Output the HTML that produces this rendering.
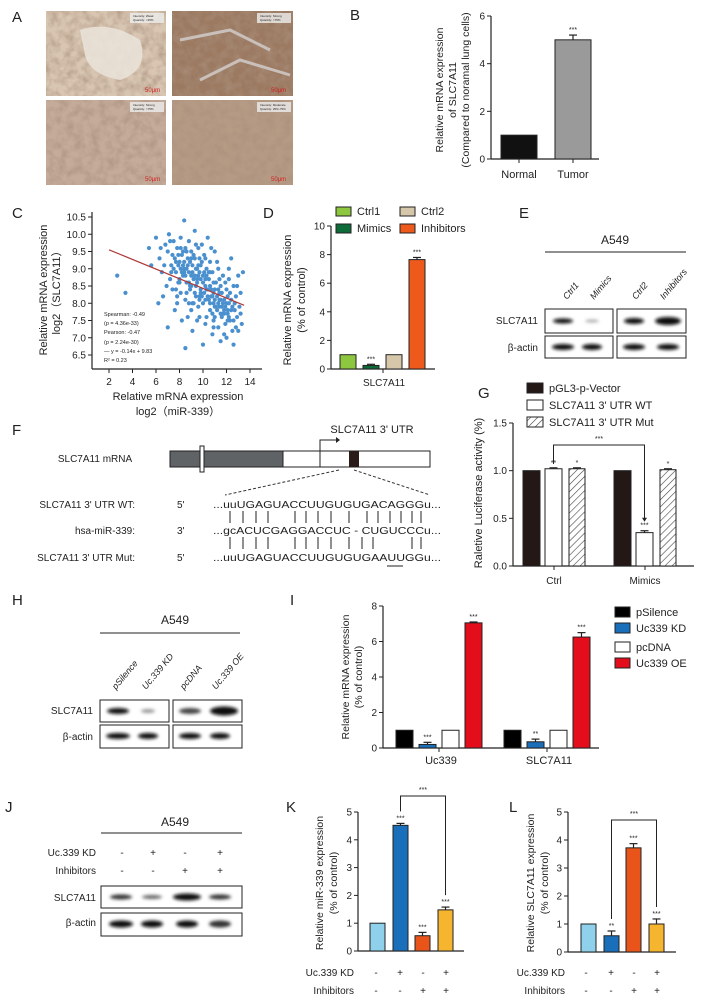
<!DOCTYPE html>
<html><head><meta charset="utf-8"><style>
html,body{margin:0;padding:0;background:#fff}
svg{display:block;font-family:"Liberation Sans",sans-serif}
text{fill:#222}
</style></head><body>
<svg id="fig" width="703" height="998" viewBox="0 0 703 998" xmlns="http://www.w3.org/2000/svg">
<defs>
<pattern id="hatch" patternUnits="userSpaceOnUse" width="5" height="5" patternTransform="rotate(45)"><rect width="5" height="5" fill="#fff"/><line x1="0" y1="0" x2="0" y2="5" stroke="#444" stroke-width="1.2"/></pattern>
<filter id="blur"><feGaussianBlur stdDeviation="1.6"/></filter>
<filter id="tex" x="0" y="0" width="1" height="1"><feTurbulence type="fractalNoise" baseFrequency="0.12" numOctaves="3" seed="3"/><feColorMatrix values="0 0 0 0 0.40 0 0 0 0 0.28 0 0 0 0 0.20 0 0 0 1.3 -0.45"/></filter>
</defs>

<g font-size="15">
<text x="12" y="22">A</text><text x="350" y="20">B</text><text x="12" y="218">C</text>
<text x="263" y="218">D</text><text x="519" y="218">E</text><text x="12" y="435">F</text>
<text x="478" y="398">G</text><text x="12" y="605">H</text><text x="290" y="605">I</text>
<text x="5" y="812">J</text><text x="286" y="812">K</text><text x="509" y="812">L</text>
</g>

<g>
<rect x="46" y="11" width="120" height="85" fill="#d8c6b2"/>
<rect x="46" y="11" width="120" height="85" fill="#fff" filter="url(#tex)"/>
<path d="M80 30 Q110 20 140 40 Q150 70 120 80 Q90 75 85 55 Z" fill="#e9e2d8" opacity="0.9"/>
<rect x="172" y="11" width="121" height="85" fill="#9c7a62"/>
<rect x="172" y="11" width="121" height="85" fill="#fff" filter="url(#tex)"/>
<path d="M180 40 L230 30 L270 50 M200 80 L240 60 L290 75" stroke="#c9c0bb" stroke-width="3" fill="none"/>
<rect x="46" y="100" width="120" height="85" fill="#c5ab9a"/>
<rect x="46" y="100" width="120" height="85" fill="#fff" filter="url(#tex)"/>
<rect x="172" y="100" width="121" height="85" fill="#b59a84"/>
<rect x="172" y="100" width="121" height="85" fill="#fff" filter="url(#tex)"/>
<g font-size="3" fill="#555">
<rect x="130" y="13" width="34" height="10" fill="#eee" opacity="0.8"/><text x="133" y="17">Intensity: Weak</text><text x="133" y="21">Quantity: &lt;25%</text>
<rect x="257" y="13" width="34" height="10" fill="#eee" opacity="0.8"/><text x="260" y="17">Intensity: Strong</text><text x="260" y="21">Quantity: &gt;75%</text>
<rect x="130" y="102" width="34" height="10" fill="#eee" opacity="0.8"/><text x="133" y="106">Intensity: Strong</text><text x="133" y="110">Quantity: &gt;75%</text>
<rect x="257" y="102" width="34" height="10" fill="#eee" opacity="0.8"/><text x="260" y="106">Intensity: Moderate</text><text x="260" y="110">Quantity: 25%-75%</text>
</g>
<g font-size="6">
<text x="145" y="92" style="fill:#d02020">50μm</text><text x="271" y="92" style="fill:#d02020">50μm</text>
<text x="145" y="181" style="fill:#d02020">50μm</text><text x="271" y="181" style="fill:#d02020">50μm</text>
</g>
</g>

<g id="panelB"></g>
<g id="panelC"></g>
<g id="panelD"></g>

<g font-size="10">
<text x="615" y="244" text-anchor="middle" font-size="12">A549</text>
<line x1="545" y1="252" x2="686" y2="252" stroke="#222"/>
<text transform="translate(567,300) rotate(-50)" font-style="italic" font-size="9">Ctrl1</text>
<text transform="translate(594,300) rotate(-50)" font-style="italic" font-size="9">Mimics</text>
<text transform="translate(636,300) rotate(-50)" font-style="italic" font-size="9">Ctrl2</text>
<text transform="translate(664,300) rotate(-50)" font-style="italic" font-size="9">Inhibitors</text>
<text x="538" y="324" text-anchor="end">SLC7A11</text>
<text x="538" y="351" text-anchor="end">β-actin</text>
<rect x="545" y="309" width="68" height="24" fill="#fff" stroke="#222"/>
<rect x="617" y="309" width="69" height="24" fill="#fff" stroke="#222"/>
<rect x="545" y="336" width="68" height="22" fill="#fff" stroke="#222"/>
<rect x="617" y="336" width="69" height="22" fill="#fff" stroke="#222"/>
<g filter="url(#blur)" fill="#111">
<ellipse cx="563" cy="321" rx="10" ry="2.5"/><ellipse cx="592" cy="321" rx="7" ry="1.5" fill="#aaa"/>
<ellipse cx="634" cy="321" rx="10" ry="3"/><ellipse cx="668" cy="321" rx="13" ry="4"/>
<ellipse cx="563" cy="347" rx="11" ry="3"/><ellipse cx="592" cy="347" rx="10" ry="3"/>
<ellipse cx="634" cy="347" rx="11" ry="3"/><ellipse cx="668" cy="347" rx="11" ry="3"/>
</g>
</g>

<g font-size="10">
<text x="372" y="433" text-anchor="middle" font-size="11">SLC7A11 3' UTR</text>
<text x="95" y="462" text-anchor="middle">SLC7A11 mRNA</text>
<rect x="170" y="451" width="260" height="16" fill="#fff" stroke="#222"/>
<rect x="170" y="451" width="113" height="16" fill="#5f6366" stroke="#222"/>
<rect x="200" y="446" width="4" height="26" fill="#fff" stroke="#222"/>
<line x1="320" y1="451" x2="320" y2="467" stroke="#222"/>
<polyline points="320,451 320,440 336,440" fill="none" stroke="#222"/>
<polygon points="336,437 340,440 336,443" fill="#222"/>
<rect x="349" y="451" width="10" height="16" fill="#2a1a1a"/>
<line x1="339" y1="470" x2="225" y2="495" stroke="#333" stroke-dasharray="3,2"/>
<line x1="354" y1="470" x2="430" y2="495" stroke="#333" stroke-dasharray="3,2"/>
<text x="135" y="508" text-anchor="end">SLC7A11 3' UTR WT:</text>
<text x="135" y="534" text-anchor="end">hsa-miR-339:</text>
<text x="135" y="561" text-anchor="end">SLC7A11 3' UTR Mut:</text>
<text x="177" y="508">5'</text><text x="177" y="534">3'</text><text x="177" y="561">5'</text>
<text x="213" y="508" textLength="228" lengthAdjust="spacingAndGlyphs">...uuUGAGUACCUUGUGUGACAGGGu...</text>
<text x="213" y="534" textLength="228" lengthAdjust="spacingAndGlyphs">...gcACUCGAGGACCUC - CUGUCCCu...</text>
<text x="213" y="561" textLength="228" lengthAdjust="spacingAndGlyphs">...uuUGAGUACCUUGUGUGAAUUGGu...</text>
<g id="pairs" stroke="#222" stroke-width="1"></g>
<line x1="387" y1="566" x2="403" y2="566" stroke="#222"/>
</g>

<g id="panelG"></g>

<g font-size="10">
<text x="175" y="624" text-anchor="middle" font-size="12">A549</text>
<line x1="100" y1="633" x2="240" y2="633" stroke="#222"/>
<text transform="translate(116,690) rotate(-50)" font-style="italic" font-size="9">pSilence</text>
<text transform="translate(146,690) rotate(-50)" font-style="italic" font-size="9">Uc.339 KD</text>
<text transform="translate(184,690) rotate(-50)" font-style="italic" font-size="9">pcDNA</text>
<text transform="translate(216,690) rotate(-50)" font-style="italic" font-size="9">Uc.339 OE</text>
<text x="93" y="714" text-anchor="end">SLC7A11</text>
<text x="93" y="740" text-anchor="end">β-actin</text>
<rect x="100" y="700" width="69" height="22" fill="#fff" stroke="#222"/>
<rect x="173" y="700" width="69" height="22" fill="#fff" stroke="#222"/>
<rect x="100" y="725" width="69" height="23" fill="#fff" stroke="#222"/>
<rect x="173" y="725" width="69" height="23" fill="#fff" stroke="#222"/>
<g filter="url(#blur)" fill="#111">
<ellipse cx="118" cy="711" rx="11" ry="3"/><ellipse cx="148" cy="711" rx="7" ry="2" fill="#999"/>
<ellipse cx="190" cy="711" rx="11" ry="3" fill="#444"/><ellipse cx="224" cy="711" rx="14" ry="4.5"/>
<ellipse cx="118" cy="736" rx="12" ry="3"/><ellipse cx="148" cy="736" rx="10" ry="3"/>
<ellipse cx="190" cy="736" rx="11" ry="3"/><ellipse cx="220" cy="736" rx="10" ry="3"/>
</g>
</g>

<g id="panelI"></g>

<g font-size="10">
<text x="175" y="826" text-anchor="middle" font-size="12">A549</text>
<line x1="101" y1="833" x2="242" y2="833" stroke="#222"/>
<text x="96" y="856" text-anchor="end">Uc.339 KD</text>
<text x="96" y="874" text-anchor="end">Inhibitors</text>
<g text-anchor="middle"><text x="122" y="856">-</text><text x="153" y="856">+</text><text x="185" y="856">-</text><text x="220" y="856">+</text>
<text x="122" y="874">-</text><text x="153" y="874">-</text><text x="185" y="874">+</text><text x="220" y="874">+</text></g>
<text x="96" y="901" text-anchor="end">SLC7A11</text>
<text x="96" y="926" text-anchor="end">β-actin</text>
<rect x="101" y="886" width="141" height="22" fill="#fff" stroke="#222"/>
<rect x="101" y="913" width="141" height="23" fill="#fff" stroke="#222"/>
<g filter="url(#blur)" fill="#111">
<ellipse cx="121" cy="897" rx="11" ry="2.5" fill="#333"/><ellipse cx="152" cy="897" rx="10" ry="2" fill="#666"/>
<ellipse cx="187" cy="897" rx="14" ry="3.5"/><ellipse cx="220" cy="897" rx="11" ry="2.5" fill="#333"/>
<ellipse cx="121" cy="924" rx="12" ry="3.5"/><ellipse cx="152" cy="924" rx="11" ry="3.5"/>
<ellipse cx="187" cy="924" rx="11" ry="3.5"/><ellipse cx="220" cy="924" rx="11" ry="3.5" fill="#333"/>
</g>
</g>

<g id="panelK"></g>
<g id="panelL"></g>
</svg>

<script>
const bCats = ['Normal', 'Tumor'];
const bVals = [1, 5.0];
const bErr = [0, 0.2];
const bTicks = [0, 2, 4, 6];

const cX = [2.7,3.4,5.4,5.6,6.0,6.3,6.5,6.6,6.8,7.0,7.1,7.2,7.3,7.4,7.5,7.6,7.7,7.8,7.9,8.0,8.1,8.1,8.2,8.3,8.4,8.4,8.5,8.5,8.6,8.7,8.8,8.8,8.9,9.0,9.0,9.1,9.2,9.3,9.3,9.4,9.5,9.5,9.6,9.7,9.7,9.8,9.9,10.0,10.0,10.1,10.2,10.2,10.3,10.4,10.4,10.5,10.6,10.6,10.7,10.8,10.8,10.9,11.0,11.0,11.1,11.2,11.3,11.3,11.4,11.5,11.5,11.6,11.7,11.8,11.9,12.0,12.0,12.1,12.2,12.3,12.4,12.5,12.6,12.6,12.7,12.8,12.9,13.0,13.1,13.2,13.4,13.3,8.5,10.0,7.6,8.2,9.1,6.9,6.2,7.0,7.8,8.7,9.6,10.9,11.6,12.2,9.9,8.9,9.4,10.7,11.2,12.4,7.4,8.0,9.2,10.3,11.8,6.7,7.9,8.6,9.8,10.5,11.4,12.7,6.4,7.2,9.0,10.1,11.0,12.1,8.3,9.6,10.9,11.9,13.0,9.7,8.8,10.6,11.7,7.7,10.2,9.3,8.1,12.9,11.3,9.5,10.8,7.3,
 7.5,7.9,8.2,8.4,8.6,8.8,9.0,9.2,9.4,9.6,9.8,10.0,10.2,10.4,10.6,10.8,11.0,11.2,11.4,11.6,11.8,12.0,12.2,12.4,7.7,8.0,8.3,8.5,8.7,8.9,9.1,9.3,9.5,9.7,9.9,10.1,10.3,10.5,10.7,10.9,11.1,11.3,11.5,11.7,11.9,12.1,12.3,12.5,8.1,8.6,9.0,9.4,9.8,10.2,10.6,11.0,11.4,11.8,12.2,12.6,7.8,8.4,9.1,9.7,10.3,10.9,11.5,12.1,12.8,13.2];
const cY = [8.8,8.3,9.6,9.1,9.9,9.3,8.9,8.2,9.7,9.5,10.0,8.7,9.1,8.4,9.8,9.3,8.9,9.6,8.6,9.2,9.9,8.3,9.4,8.8,10.4,9.0,9.6,8.1,8.6,9.3,9.8,8.9,8.4,9.5,7.8,9.1,8.7,10.1,9.3,8.2,9.0,8.6,9.6,7.6,8.9,8.4,9.2,8.0,8.8,9.4,8.5,7.4,9.0,9.9,8.2,8.7,7.8,9.2,8.4,7.1,8.9,8.0,9.5,7.6,8.6,8.2,7.3,9.0,7.9,8.5,6.9,7.6,8.8,8.1,7.4,8.4,7.0,7.8,8.7,7.5,8.1,7.2,6.8,8.5,7.8,8.2,7.6,8.8,7.9,8.3,8.9,7.4,6.7,6.8,7.8,7.5,7.2,8.5,8.0,7.3,8.0,7.6,7.9,7.3,8.3,9.0,9.7,9.2,9.7,9.6,9.2,9.3,9.4,8.7,8.0,7.6,7.1,9.1,9.1,8.3,8.7,8.1,8.7,8.0,9.6,9.8,8.5,8.3,8.4,8.2,9.5,9.1,8.6,7.9,7.2,8.1,8.0,8.5,7.7,8.4,9.3,8.8,9.0,8.5,8.0,7.5,7.7,8.9,
 9.0,9.4,8.9,9.2,9.0,8.6,8.8,9.4,8.5,8.8,8.3,8.6,8.1,8.4,8.0,8.2,7.9,7.8,8.1,7.9,7.7,8.0,7.6,7.8,9.2,8.6,9.1,8.8,9.1,8.5,8.9,8.3,8.7,9.3,8.2,8.9,8.4,8.9,8.2,8.3,7.9,8.4,7.7,8.0,8.6,7.5,8.3,7.9,9.6,9.5,9.3,9.0,9.1,8.7,8.9,8.1,8.3,7.8,8.0,7.5,8.2,8.9,8.0,8.2,8.8,7.5,8.1,7.7,7.3,7.7];
const cFit = [-0.14, 9.83];
const cXTicks = [2,4,6,8,10,12,14];
const cYTicks = [6.5,7.0,7.5,8.0,8.5,9.0,9.5,10.0,10.5];

const dCats = ['Ctrl1','Mimics','Ctrl2','Inhibitors'];
const dVals = [1, 0.25, 1, 7.65];
const dErr = [0, 0.08, 0, 0.15];
const dStars = ['', '***', '', '***'];
const dTicks = [0,2,4,6,8,10];

const gGroups = ['Ctrl','Mimics'];
const gVector = [1, 1];
const gWT = [1.02, 0.35];
const gMut = [1.02, 1.01];
const gWTErr = [0.01, 0.02];
const gMutErr = [0.01, 0.01];
const gWTStars = ['**','***'];
const gMutStars = ['*','*'];
const gTicks = [0.0,0.5,1.0,1.5];

const iGroups = ['Uc339','SLC7A11'];
const iPSilence = [1, 1];
const iKD = [0.2, 0.35];
const iPc = [1, 1];
const iOE = [7.05, 6.25];
const iKDErr = [0.12, 0.15];
const iOEErr = [0.05, 0.25];
const iKDStars = ['***','**'];
const iTicks = [0,2,4,6,8];

const kVals = [1, 4.52, 0.55, 1.48];
const kErr = [0, 0.07, 0.12, 0.1];
const kStars = ['', '***', '***', '***'];
const lVals = [1, 0.58, 3.72, 1.0];
const lErr = [0, 0.17, 0.15, 0.18];
const lStars = ['', '**', '***', '***'];
const klTicks = [0,1,2,3,4,5];
const kdSigns = ['-','+','-','+'];
const inhSigns = ['-','-','+','+'];

const NS = 'http://www.w3.org/2000/svg';
function mk(tag, attrs, parent) {
  const e = document.createElementNS(NS, tag);
  for (const k in attrs) e.setAttribute(k, attrs[k]);
  parent.appendChild(e);
  return e;
}
function txt(parent, x, y, s, size, anchor, extra) {
  const t = mk('text', Object.assign({x: x, y: y, 'font-size': size, 'text-anchor': anchor || 'start'}, extra || {}), parent);
  t.textContent = s;
  return t;
}
function scale(v0, p0, v1, p1) { return v => p0 + (v - v0) * (p1 - p0) / (v1 - v0); }
function yAxis(g, x, ys, ticks, yTop, yBot, fmt, fs) {
  const ax = mk('line', {x1: x, y1: yTop, x2: x, y2: yBot, stroke: '#222', 'stroke-width': 1.2}, g);
  
  
  ticks.forEach(v => {
    mk('line', {x1: x - 4, y1: ys(v), x2: x, y2: ys(v), stroke: '#222'}, g);
    const t = txt(g, x - 6, ys(v) + 3.5, fmt ? fmt(v) : String(v), fs || 10, 'end');
    
    
  });
}
function bar(g, x, w, v, ys, fill, err, star, name) {
  const y0 = ys(0), y1 = ys(v);
  if (err) {
    mk('line', {x1: x + w / 2, y1: y1, x2: x + w / 2, y2: ys(v + err), stroke: '#222', 'stroke-width': 1.2}, g);
    mk('line', {x1: x + w / 2 - 4, y1: ys(v + err), x2: x + w / 2 + 4, y2: ys(v + err), stroke: '#222', 'stroke-width': 1.2}, g);
  }
  const r = mk('rect', {x: x, y: y1, width: w, height: y0 - y1, fill: fill, stroke: '#222', 'stroke-width': 1}, g);
  
  
  if (star) {
    const s = txt(g, x + w / 2, ys(v + (err || 0)) - 3, star, 7, 'middle');
    
    
  }
}
function rotLabel(g, x, y, s, size) {
  const t = txt(g, 0, 0, s, size, 'middle', {transform: 'translate(' + x + ',' + y + ') rotate(-90)'});
  
  
  return t;
}
function legendEntry(g, x, y, w, h, fill, label, size) {
  const r = mk('rect', {x: x, y: y, width: w, height: h, fill: fill, stroke: '#222'}, g);
  
  
  const t = txt(g, x + w + 6, y + h - 1, label, size, 'start');
  
  
}

(function () {
  const g = document.getElementById('panelB');
  const ys = scale(0, 159, 6, 16);
  yAxis(g, 491, ys, bTicks, 16, 159, null, 10);
  mk('line', {x1: 491, y1: 159, x2: 599, y2: 159, stroke: '#222', 'stroke-width': 1.2}, g);
  const xs = [501, 555], fills = ['#111', '#9a9a9a'];
  bCats.forEach((c, i) => {
    bar(g, xs[i], 36, bVals[i], ys, fills[i], bErr[i], i === 1 ? '***' : '', 'bar-' + c.toLowerCase());
    mk('line', {x1: xs[i] + 18, y1: 159, x2: xs[i] + 18, y2: 163, stroke: '#222'}, g);
    const t = txt(g, xs[i] + 18, 178, c, 11, 'middle');
    
    
  });
  rotLabel(g, 443, 90, 'Relative mRNA expression', 10.5);
  rotLabel(g, 456, 90, 'of SLC7A11', 10.5);
  rotLabel(g, 469, 90, '(Compared to noramal lung cells)', 10.5);
})();

(function () {
  const g = document.getElementById('panelC');
  const xs = scale(2, 109, 14, 250);
  const ys = scale(10.5, 217, 6.5, 355);
  yAxis(g, 92, ys, cYTicks, 212, 369, v => v.toFixed(1), 10);
  const xa = mk('line', {x1: 92, y1: 369, x2: 262, y2: 369, stroke: '#222', 'stroke-width': 1.2}, g);
  
  
  cXTicks.forEach(v => {
    mk('line', {x1: xs(v), y1: 369, x2: xs(v), y2: 373, stroke: '#222'}, g);
    const t = txt(g, xs(v), 385, String(v), 10, 'middle');
    
    
  });
  cX.forEach((x, i) => {
    const p = mk('circle', {cx: xs(x), cy: ys(cY[i]), r: 2.1, fill: '#4a90cf'}, g);
    
    
  });
  const fl = mk('line', {x1: xs(2), y1: ys(cFit[0] * 2 + cFit[1]), x2: xs(13.5), y2: ys(cFit[0] * 13.5 + cFit[1]), stroke: '#b03a3a', 'stroke-width': 1.2}, g);
  
  
  const st = ['Spearman: -0.49', '(p = 4.36e-33)', 'Pearson: -0.47', '(p = 2.24e-30)', '— y = -0.14x + 9.83', 'R² = 0.23'];
  const sy = [316, 325, 334, 344, 353, 362];
  st.forEach((s, i) => { const t = txt(g, 104, sy[i], s, 5.5, 'start');   });
  let t = txt(g, 178, 400, 'Relative mRNA expression', 11, 'middle');
  
  
  t = txt(g, 178, 415, 'log2（miR-339）', 11, 'middle', {'font-family': '"Liberation Sans","Noto Sans CJK SC",sans-serif'});
  
  
  rotLabel(g, 47, 290, 'Relative mRNA expression', 11);
  rotLabel(g, 60, 290, 'log2（SLC7A11）', 11).setAttribute('font-family', '"Liberation Sans","Noto Sans CJK SC",sans-serif');
})();

(function () {
  const g = document.getElementById('panelD');
  const ys = scale(0, 369, 10, 226);
  yAxis(g, 331, ys, dTicks, 226, 369, null, 10);
  mk('line', {x1: 331, y1: 369, x2: 435, y2: 369, stroke: '#222', 'stroke-width': 1.2}, g);
  const xs = [340, 363, 386, 409], fills = ['#8dc63f', '#0d6b3a', '#d6c7aa', '#ee5a1c'];
  dCats.forEach((c, i) => bar(g, xs[i], 16, dVals[i], ys, fills[i], dErr[i], dStars[i], 'bar-' + c.toLowerCase()));
  mk('line', {x1: 383, y1: 369, x2: 383, y2: 373, stroke: '#222'}, g);
  const t = txt(g, 384, 386, 'SLC7A11', 10, 'middle');
  
  
  legendEntry(g, 336, 207, 15, 9, fills[0], 'Ctrl1', 11);
  legendEntry(g, 400, 207, 15, 9, fills[2], 'Ctrl2', 11);
  legendEntry(g, 336, 224, 15, 9, fills[1], 'Mimics', 11);
  legendEntry(g, 400, 224, 15, 9, fills[3], 'Inhibitors', 11);
  rotLabel(g, 291, 300, 'Relative mRNA expression', 11);
  rotLabel(g, 305, 300, '(% of control)', 11);
})();

(function () {
  const g = document.getElementById('pairs');
  const px = [230,243,256,268,295,306,318,331,349,367,378,390,401,412,421];
  const px2 = [230,243,256,268,295,306,318,331,349,362,373,412,421];
  px.forEach(x => mk('line', {x1: x, y1: 511, x2: x, y2: 523}, g));
  px2.forEach(x => mk('line', {x1: x, y1: 537, x2: x, y2: 549}, g));
})();

(function () {
  const g = document.getElementById('panelG');
  const ys = scale(0, 566, 1.5, 423);
  yAxis(g, 513, ys, gTicks, 423, 566, v => v.toFixed(1), 10);
  mk('line', {x1: 513, y1: 566, x2: 694, y2: 566, stroke: '#222', 'stroke-width': 1.2}, g);
  const gx = [523, 614];
  gGroups.forEach((c, i) => {
    bar(g, gx[i], 17, gVector[i], ys, '#231815', 0, '', 'bar-vector-' + c.toLowerCase());
    bar(g, gx[i] + 22, 17, gWT[i], ys, '#fff', gWTErr[i], gWTStars[i], 'bar-wt-' + c.toLowerCase());
    bar(g, gx[i] + 46, 16, gMut[i], ys, 'url(#hatch)', gMutErr[i], gMutStars[i], 'bar-mut-' + c.toLowerCase());
    mk('line', {x1: gx[i] + 31, y1: 566, x2: gx[i] + 31, y2: 570, stroke: '#222'}, g);
    const t = txt(g, gx[i] + 31, 584, c, 10, 'middle');
    
    
  });
  const bx1 = gx[0] + 30.5, bx2 = gx[1] + 30.5;
  const br = mk('polyline', {points: bx1 + ',' + ys(gWT[0] + 0.05) + ' ' + bx1 + ',445 ' + bx2 + ',445 ' + bx2 + ',' + (ys(gWT[1] + gWTErr[1]) - 12), fill: 'none', stroke: '#222'}, g);
  
  
  mk('polygon', {points: (bx2 - 2.5) + ',' + (ys(gWT[1] + gWTErr[1]) - 13) + ' ' + (bx2 + 2.5) + ',' + (ys(gWT[1] + gWTErr[1]) - 13) + ' ' + bx2 + ',' + (ys(gWT[1] + gWTErr[1]) - 9), fill: '#222'}, g);
  txt(g, (bx1 + bx2) / 2, 441, '***', 7, 'middle');
  legendEntry(g, 527, 383, 16, 10, '#231815', 'pGL3-p-Vector', 11);
  legendEntry(g, 527, 400, 16, 10, '#fff', 'SLC7A11 3\' UTR WT', 11);
  legendEntry(g, 527, 417, 16, 10, 'url(#hatch)', 'SLC7A11 3\' UTR Mut', 11);
  rotLabel(g, 482, 493, 'Raletive Luciferase activity (%)', 11);
})();

(function () {
  const g = document.getElementById('panelI');
  const ys = scale(0, 748, 8, 606);
  yAxis(g, 383, ys, iTicks, 606, 748, null, 10);
  mk('line', {x1: 383, y1: 748, x2: 599, y2: 748, stroke: '#222', 'stroke-width': 1.2}, g);
  const gx = [396, 504];
  iGroups.forEach((c, i) => {
    bar(g, gx[i], 17, iPSilence[i], ys, '#000', 0, '', 'bar-psilence-' + c.toLowerCase());
    bar(g, gx[i] + 23, 17, iKD[i], ys, '#1a6fba', iKDErr[i], iKDStars[i], 'bar-kd-' + c.toLowerCase());
    bar(g, gx[i] + 46, 17, iPc[i], ys, '#fff', 0, '', 'bar-pcdna-' + c.toLowerCase());
    bar(g, gx[i] + 69, 17, iOE[i], ys, '#e30d1c', iOEErr[i], '***', 'bar-oe-' + c.toLowerCase());
    mk('line', {x1: gx[i] + 43, y1: 748, x2: gx[i] + 43, y2: 752, stroke: '#222'}, g);
    const t = txt(g, gx[i] + 45, 764, c, 11, 'middle');
    
    
  });
  legendEntry(g, 615, 607, 15, 10, '#000', 'pSilence', 11);
  legendEntry(g, 615, 623, 15, 10, '#1a6fba', 'Uc339 KD', 11);
  legendEntry(g, 615, 642, 15, 10, '#fff', 'pcDNA', 11);
  legendEntry(g, 615, 658, 15, 10, '#e30d1c', 'Uc339 OE', 11);
  rotLabel(g, 349, 677, 'Relative mRNA expression', 10.5);
  rotLabel(g, 362, 677, '(% of control)', 10.5);
})();

function klPanel(id, axisX, y0, y5, axisEnd, barX, vals, errs, stars, bracketY, lab1, lab2, labX, signX, labRight, starBrY) {
  const g = document.getElementById(id);
  const ys = scale(0, y0, 5, y5);
  yAxis(g, axisX, ys, klTicks, y5, y0, null, 10);
  mk('line', {x1: axisX, y1: y0, x2: axisEnd, y2: y0, stroke: '#222', 'stroke-width': 1.2}, g);
  const fills = ['#8fd0ea', '#1a6fba', '#e8541a', '#f6b52e'];
  vals.forEach((v, i) => bar(g, barX[i], 15, v, ys, fills[i], errs[i], stars[i], 'bar-' + id + '-' + i));
  const b1 = barX[1] + 7.5, b3 = barX[3] + 7.5;
  const br = mk('polyline', {points: b1 + ',' + (ys(vals[1] + errs[1]) - 12) + ' ' + b1 + ',' + bracketY + ' ' + b3 + ',' + bracketY + ' ' + b3 + ',' + (ys(vals[3] + errs[3]) - 12), fill: 'none', stroke: '#222'}, g);
  
  
  txt(g, (b1 + b3) / 2, starBrY, '***', 7, 'middle');
  let t = txt(g, labRight, 976, 'Uc.339 KD', 10, 'end');
  
  
  t = txt(g, labRight, 994, 'Inhibitors', 10, 'end');
  
  
  signX.forEach((x, i) => { txt(g, x, 976, kdSigns[i], 10, 'middle'); txt(g, x, 994, inhSigns[i], 10, 'middle'); });
  rotLabel(g, labX[0], 883, lab1, 10.5);
  rotLabel(g, labX[1], 883, lab2, 10.5);
}
klPanel('panelK', 358, 951, 812, 464, [370, 393, 415, 438], kVals, kErr, kStars, 796, 'Relative miR-339 expression', '(% of control)', [323, 337], [376, 400, 423, 446], 354, 792);
klPanel('panelL', 568, 952, 812, 676, [581, 604, 626, 649], lVals, lErr, lStars, 820, 'Relative SLC7A11 expression', '(% of control)', [534, 548], [586, 611, 634, 657], 565, 816);
</script>
</body></html>
